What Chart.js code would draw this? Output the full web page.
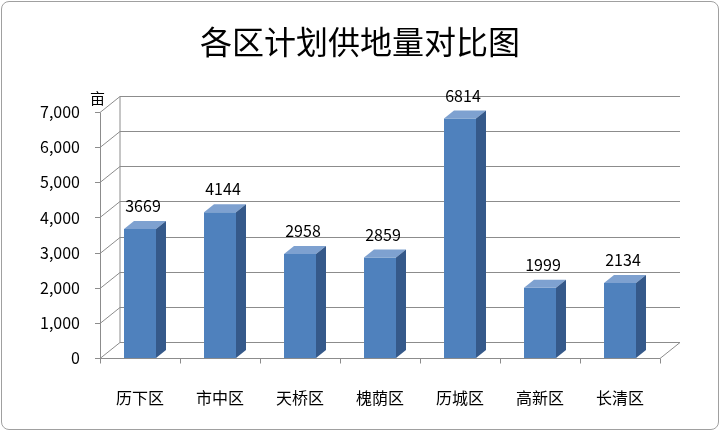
<!DOCTYPE html>
<html>
<head>
<meta charset="utf-8">
<script src="https://cdn.jsdelivr.net/npm/chart.js@4"></script>
<style>
  html, body { margin: 0; padding: 0; background: #fff; }
  #wrap { position: relative; width: 720px; height: 431px; }
  #frame { position: absolute; left: 1px; top: 1px; width: 716px; height: 427px;
           border: 1px solid #a0a0a0; border-radius: 8px; pointer-events: none; }
</style>
</head>
<body>
<div id="wrap">
  <canvas id="grafico" width="720" height="431"></canvas>
  <div id="frame"></div>
</div>
<script>
const categories = ['历下区', '市中区', '天桥区', '槐荫区', '历城区', '高新区', '长清区'];
const values = [3669, 4144, 2958, 2859, 6814, 1999, 2134];
const yTicks = [0, 1000, 2000, 3000, 4000, 5000, 6000, 7000];

const FONT = '"Noto Sans CJK SC", "Noto Sans", sans-serif';
const DX = 20, DY = 16;     // back wall offset
const BX = 10, BY = 8;      // bar depth

const bars3d = {
    id: 'bars3d',
    beforeDatasetsDraw(chart) {
        const c = chart.ctx, a = chart.chartArea, y = chart.scales.y;
        c.save();
        c.strokeStyle = '#8c8c8c';
        c.lineWidth = 1;
        yTicks.forEach(v => {
            const py = Math.round(y.getPixelForValue(v)) + 0.5;
            c.beginPath();
            c.moveTo(a.left, py);
            c.lineTo(a.left + DX, py - DY);
            c.lineTo(a.right + DX, py - DY);
            c.stroke();
        });
        const top = Math.round(y.getPixelForValue(7000)) + 0.5;
        const bot = Math.round(y.getPixelForValue(0)) + 0.5;
        c.beginPath();
        c.moveTo(a.left + DX, top - DY); c.lineTo(a.left + DX, bot - DY);
        c.moveTo(a.left + 0.5, top); c.lineTo(a.left + 0.5, bot);
        c.moveTo(a.left, bot); c.lineTo(a.right, bot); c.lineTo(a.right + DX, bot - DY);
        c.stroke();
        // y tick marks
        yTicks.forEach(v => {
            const py = Math.round(y.getPixelForValue(v)) + 0.5;
            c.beginPath(); c.moveTo(a.left - 5, py); c.lineTo(a.left, py); c.stroke();
        });
        // x tick marks
        const x = chart.scales.x;
        for (let i = 0; i <= categories.length; i++) {
            const px = Math.round(a.left + (a.right - a.left) * i / categories.length) + 0.5;
            c.beginPath(); c.moveTo(px, bot); c.lineTo(px, bot + 5); c.stroke();
        }
        // unit
        c.fillStyle = '#000';
        c.font = '15px ' + FONT;
        c.textAlign = 'left';
        c.textBaseline = 'middle';
        c.fillText('亩', 90, 98);
        c.restore();
    },
    afterDatasetsDraw(chart) {
        const c = chart.ctx;
        c.save();
        chart.getDatasetMeta(0).data.forEach((bar, i) => {
            const l = bar.x - bar.width / 2, r = bar.x + bar.width / 2, t = bar.y, b = bar.base;
            c.fillStyle = '#7ea1d0';
            c.beginPath();
            c.moveTo(l, t); c.lineTo(r, t); c.lineTo(r + BX, t - BY); c.lineTo(l + BX, t - BY);
            c.closePath(); c.fill();
            c.fillStyle = '#35598a';
            c.beginPath();
            c.moveTo(r, t); c.lineTo(r + BX, t - BY); c.lineTo(r + BX, b - BY); c.lineTo(r, b);
            c.closePath(); c.fill();
            c.fillStyle = '#000';
            c.font = '16px ' + FONT;
            c.textAlign = 'center';
            c.textBaseline = 'middle';
            c.fillText(String(values[i]), bar.x + 3, t - 23);
        });
        // title
        c.font = '32px ' + FONT;
        c.fillStyle = '#000';
        c.textAlign = 'center';
        c.textBaseline = 'middle';
        c.fillText('各区计划供地量对比图', 360, 42);
        c.restore();
    }
};

new Chart(document.getElementById('grafico'), {
    type: 'bar',
    data: {
        labels: categories,
        datasets: [{
            data: values,
            backgroundColor: '#4f81bd',
            barPercentage: 0.4,
            categoryPercentage: 1
        }]
    },
    options: {
        responsive: false,
        animation: false,
        layout: { padding: { top: 112, right: 60, bottom: 0, left: 0 } },
        plugins: { legend: { display: false }, tooltip: { enabled: false } },
        scales: {
            y: {
                min: 0, max: 7000,
                afterFit(s) { s.width = 100; },
                afterBuildTicks(s) { s.ticks = yTicks.map(v => ({ value: v })); },
                grid: { display: false },
                border: { display: false },
                ticks: { color: '#000', font: { size: 16, family: FONT }, padding: 12 }
            },
            x: {
                afterFit(s) { s.height = 73; },
                grid: { display: false },
                border: { display: false },
                ticks: { color: '#000', font: { size: 16, family: FONT }, padding: 22 }
            }
        }
    },
    plugins: [bars3d]
});
</script>
</body>
</html>
